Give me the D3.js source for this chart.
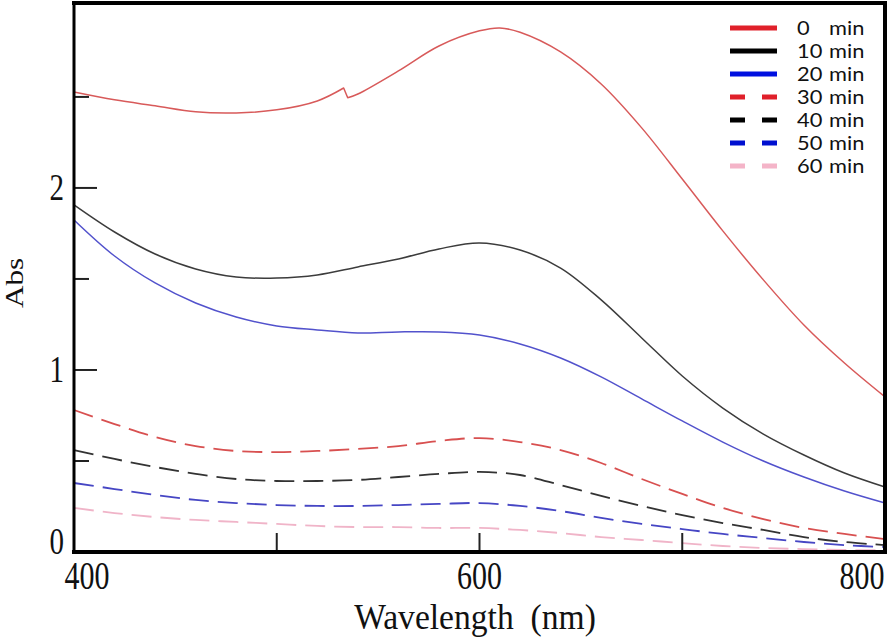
<!DOCTYPE html>
<html>
<head>
<meta charset="utf-8">
<script src="https://cdn.jsdelivr.net/npm/d3@7"></script>
<style>
  html, body { margin: 0; padding: 0; background: #fff; }
  svg { display: block; }
  text { white-space: pre; }
</style>
</head>
<body>
<svg id="chart" width="896" height="641"></svg>
<script>
// ---------- data ----------
const wavelengths = [400,420,440,460,480,500,520,540,560,580,600,620,640,660,680,700,720,740,760,780,800];

// 0 min has a small instrument step near 533-535 nm
const wl0 = [400,420,440,460,480,500,520,533,535,540,560,580,600,610,620,640,660,680,700,720,740,760,780,800];
const abs0 = [2.527,2.484,2.451,2.418,2.412,2.429,2.478,2.549,2.495,2.516,2.643,2.780,2.863,2.879,2.855,2.747,2.571,2.330,2.049,1.764,1.495,1.247,1.038,0.852];
const breakAt0 = 533; // step between 533 and 535 nm

const abs10 = [1.907,1.758,1.637,1.555,1.511,1.505,1.522,1.566,1.610,1.665,1.698,1.659,1.560,1.385,1.176,0.967,0.791,0.648,0.533,0.434,0.357];
const abs20 = [1.824,1.626,1.478,1.368,1.291,1.242,1.220,1.203,1.209,1.209,1.192,1.143,1.066,0.962,0.841,0.720,0.604,0.500,0.412,0.335,0.269];
const abs30 = [0.780,0.703,0.632,0.582,0.555,0.549,0.555,0.566,0.582,0.610,0.626,0.604,0.560,0.489,0.401,0.319,0.242,0.181,0.132,0.099,0.071];
const abs40 = [0.560,0.511,0.467,0.429,0.401,0.390,0.390,0.396,0.412,0.429,0.440,0.423,0.368,0.308,0.253,0.203,0.159,0.121,0.082,0.055,0.038];
const abs50 = [0.379,0.346,0.313,0.286,0.269,0.258,0.253,0.253,0.258,0.264,0.269,0.253,0.225,0.187,0.154,0.126,0.099,0.077,0.055,0.038,0.027];
const abs60 = [0.242,0.214,0.192,0.176,0.165,0.154,0.143,0.137,0.137,0.132,0.132,0.121,0.104,0.082,0.066,0.049,0.033,0.022,0.016,0.011,0.011];

const legendLabels = ["0", "10", "20", "30", "40", "50", "60"];
const xTickLabels = [400, 600, 800];
const xMajorTicks = [500, 600, 700];
const yTickLabels = [0, 1, 2];
const yMajorTicks = [1, 2];
const yMinorTicks = [0.5, 1.5, 2.5];

// ---------- styling ----------
const curveColors  = ["#d85a5a", "#3c3c3c", "#5252cc", "#d85050", "#333333", "#4646c4", "#f0b4c8"];
const legendColors = ["#e0202a", "#000000", "#0010e0", "#e0202a", "#000000", "#0010d0", "#f4b4c8"];
const dashed = [false, false, false, true, true, true, true];

const series = [
  { wl: wl0, v: abs0, brk: breakAt0 },
  { wl: wavelengths, v: abs10 },
  { wl: wavelengths, v: abs20 },
  { wl: wavelengths, v: abs30 },
  { wl: wavelengths, v: abs40 },
  { wl: wavelengths, v: abs50 },
  { wl: wavelengths, v: abs60 }
];

const svg = d3.select("#chart");
const x = d3.scaleLinear().domain([400, 800]).range([74, 885]);
const y = d3.scaleLinear().domain([0, 3.016]).range([552, 3]);

const smooth = d3.line().x(d => x(d[0])).y(d => y(d[1])).curve(d3.curveCatmullRom.alpha(0.5));
const straight = d3.line().x(d => x(d[0])).y(d => y(d[1]));

const plot = svg.append("g");
series.forEach((s, i) => {
  const pts = s.wl.map((w, k) => [w, s.v[k]]);
  let d;
  if (s.brk !== undefined) {
    const k = s.wl.indexOf(s.brk);
    const a = pts.slice(0, k + 1), b = pts.slice(k + 1);
    d = smooth(a) + straight([pts[k], pts[k + 1]]).replace(/^M/, "L") + smooth(b).replace(/^M/, "L");
  } else {
    d = smooth(pts);
  }
  plot.append("path")
    .attr("d", d)
    .attr("fill", "none")
    .attr("stroke", curveColors[i])
    .attr("stroke-width", dashed[i] ? 1.8 : 1.5)
    .attr("stroke-linejoin", "round")
    .attr("stroke-dasharray", dashed[i] ? "20,9" : null);
});

// ---------- ticks ----------
const tickG = svg.append("g").attr("stroke", "#222").attr("stroke-width", 2);
yMajorTicks.forEach(v => {
  tickG.append("line").attr("x1", x(400)).attr("x2", x(400) + 23).attr("y1", y(v)).attr("y2", y(v));
});
yMinorTicks.forEach(v => {
  tickG.append("line").attr("x1", x(400)).attr("x2", x(400) + 15).attr("y1", y(v)).attr("y2", y(v));
});
xMajorTicks.forEach(w => {
  tickG.append("line").attr("x1", x(w)).attr("x2", x(w)).attr("y1", y(0)).attr("y2", y(0) - 19);
});

// ---------- frame ----------
const frame = svg.append("g").attr("stroke", "#000").attr("fill", "none");
frame.append("line").attr("x1", 72).attr("x2", 887).attr("y1", 3).attr("y2", 3).attr("stroke-width", 4);
frame.append("line").attr("x1", 885).attr("x2", 885).attr("y1", 1).attr("y2", 554).attr("stroke-width", 4);
frame.append("line").attr("x1", x(400)).attr("x2", x(400)).attr("y1", 1).attr("y2", 554).attr("stroke-width", 3);
frame.append("line").attr("x1", 72).attr("x2", 887).attr("y1", y(0)).attr("y2", y(0)).attr("stroke-width", 4);

// ---------- tick labels ----------
const serif = "'Liberation Serif', 'Times New Roman', serif";
const xLabelOffset = {400: 13, 600: 0, 800: -23};
xTickLabels.forEach(w => {
  svg.append("text")
    .attr("transform", `translate(${x(w) + xLabelOffset[w]},589) scale(1,1.3)`)
    .attr("text-anchor", "middle")
    .attr("font-family", serif)
    .attr("font-size", 30)
    .attr("fill", "#111")
    .text(w);
});
yTickLabels.forEach(v => {
  const cy = v === 0 ? y(v) - 10 : y(v);
  svg.append("text")
    .attr("transform", `translate(64,${cy + 12}) scale(1,1.3)`)
    .attr("text-anchor", "end")
    .attr("font-family", serif)
    .attr("font-size", 29)
    .attr("fill", "#111")
    .text(v);
});

// axis titles
svg.append("text")
  .attr("transform", "translate(475,629) scale(1.12,1.2)")
  .attr("text-anchor", "middle")
  .attr("font-family", serif)
  .attr("font-size", 30)
  .attr("fill", "#111")
  .text("Wavelength  (nm)");

svg.append("text")
  .attr("transform", "translate(23,283) scale(1,1.2) rotate(-90)")
  .attr("text-anchor", "middle")
  .attr("font-family", serif)
  .attr("font-size", 26)
  .attr("fill", "#111")
  .text("Abs");

// ---------- legend ----------
const legend = svg.append("g");
const legendFont = "Lato, 'Open Sans', sans-serif";
legendLabels.forEach((lab, i) => {
  const cy = 28 + i * 23;
  legend.append("line")
    .attr("x1", 730).attr("x2", 777)
    .attr("y1", cy).attr("y2", cy)
    .attr("stroke", legendColors[i])
    .attr("stroke-width", 5)
    .attr("stroke-dasharray", dashed[i] ? "15,17" : null);
  legend.append("text")
    .attr("transform", `translate(797,${cy + 7}) scale(1.15,1)`)
    .attr("font-family", legendFont)
    .attr("font-size", 19)
    .attr("fill", "#111")
    .text(lab);
  legend.append("text")
    .attr("transform", `translate(829,${cy + 7}) scale(1.15,1)`)
    .attr("font-family", legendFont)
    .attr("font-size", 19)
    .attr("fill", "#111")
    .text("min");
});
</script>
</body>
</html>
